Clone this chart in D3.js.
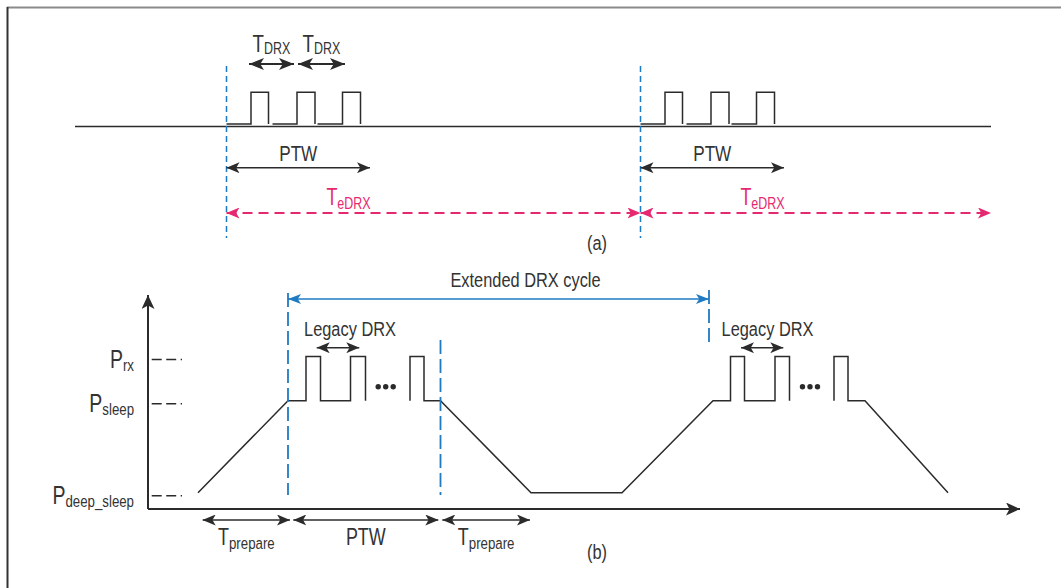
<!DOCTYPE html>
<html>
<head>
<meta charset="utf-8">
<script src="https://cdn.jsdelivr.net/npm/d3@7"></script>
<style>
  body { margin: 0; background: #fff; }
  text { font-family: "Liberation Sans Narrow", "Liberation Sans", Arial, sans-serif; fill: #333; }
</style>
</head>
<body>
<svg id="fig" width="1061" height="588"></svg>
<script>
// ---------- (a) eDRX timeline (time units along the top line) ----------
const cycleStartsA = [151.5, 565.5];
const timelineEndA = 916;
const pagingStarts = [0, 46, 91];        // offsets from cycle start
const pagingRise   = [24.5, 70.5, 116];
const pagingFall   = [42, 88.5, 134];
const ptwLength    = 143.5;
const tdrxSpans    = [[22.5, 67.5], [71.5, 118.5]];
const idleLevel    = 0.07;
const pagingLevel  = 1;

// ---------- (b) power profile ----------
const levelMain   = ["P", "P", "P"];
const levelSub    = ["deep_sleep", "sleep", "rx"];
const levelValues = [0, 1, 1.48];

const profileT = [50, 140, 158, 158, 172.5, 172.5, 202.5, 202.5, 217.5, 217.5, null,
                  262, 262, 276, 276, 292.5, 383, 474, 565, 582.5, 582.5, 596.5, 596.5, 627, 627, 641.5, 641.5, null,
                  686, 686, 700, 700, 717, 800];
const profileP = [0, 1, 1, 1.48, 1.48, 1, 1, 1.48, 1.48, 1, null,
                  1, 1.48, 1.48, 1, 1, 0, 0, 1, 1, 1.48, 1.48, 1, 1, 1.48, 1.48, 1, null,
                  1, 1.48, 1.48, 1, 1, 0];
const cycleMarksB   = [140, 292.5, 561];
const extendedSpan  = [140, 561];
const legacySpans   = [[168.7, 211.3], [593, 635.3]];
const legacyLabelT  = [202, 619.5];
const ellipsisT     = [237.7, 662];
const bottomSpans   = [[54.7, 142], [145.3, 290.3], [294.3, 382]];
const bottomMain    = ["T", "PTW", "T"];
const bottomSub     = ["prepare", "", "prepare"];

const BLUE = "#1f7ac4", PINK = "#e5286f", INK = "#2b2b2b";
const SX = 0.78; // horizontal squeeze, the original uses a condensed face

const svg = d3.select("#fig");

// frame
svg.append("line").attr("x1", 7).attr("x2", 1061).attr("y1", 7.5).attr("y2", 7.5)
  .attr("stroke", "#8a8a8a").attr("stroke-width", 2);
svg.append("line").attr("x1", 7.5).attr("x2", 7.5).attr("y1", 7).attr("y2", 588)
  .attr("stroke", "#333").attr("stroke-width", 2);

// arrow markers
const defs = svg.append("defs");
function marker(id, color, len, half) {
  defs.append("marker").attr("id", id)
    .attr("viewBox", `0 ${-half} ${len} ${half * 2}`)
    .attr("refX", len).attr("refY", 0)
    .attr("markerWidth", len).attr("markerHeight", half * 2)
    .attr("markerUnits", "userSpaceOnUse")
    .attr("orient", "auto-start-reverse")
    .append("path")
    .attr("d", `M0,${-half}L${len},0L0,${half}L${len * 0.25},0Z`)
    .attr("fill", color);
}
marker("ah", INK, 13, 5.5);
marker("ahBig", INK, 15, 6);
marker("ahBlue", BLUE, 13, 5);
marker("ahPink", PINK, 13, 5.5);
marker("ahAxis", INK, 14, 6.5);

function arrow(g, x1, x2, y, color, m, width, dash) {
  g.append("line").attr("x1", x1).attr("x2", x2).attr("y1", y).attr("y2", y)
    .attr("stroke", color).attr("stroke-width", width)
    .attr("stroke-dasharray", dash || null)
    .attr("marker-start", `url(#${m})`).attr("marker-end", `url(#${m})`);
}

// text with optional subscript, squeezed horizontally
function label(g, x, y, main, sub, size, subSize, color, dy, anchor) {
  const t = g.append("text")
    .attr("transform", `translate(${x},${y}) scale(${SX},1)`)
    .attr("text-anchor", anchor || "middle").style("font-size", size + "px");
  if (color) t.style("fill", color);
  t.append("tspan").text(main);
  if (sub) t.append("tspan").attr("dy", dy || 0).style("font-size", subSize + "px").text(sub);
  return t;
}

// ================= (a) =================
const gA = svg.append("g");
const xA = d3.scaleLinear().domain([0, 917]).range([75, 992]);
const yA = d3.scaleLinear().domain([0, 1]).range([126.5, 92.3]);

gA.append("line").attr("x1", xA(0)).attr("x2", xA(timelineEndA))
  .attr("y1", yA(0)).attr("y2", yA(0)).attr("stroke", INK).attr("stroke-width", 1.5);

cycleStartsA.forEach((c, ci) => {
  // dashed cycle boundary
  gA.append("line").attr("x1", xA(c)).attr("x2", xA(c)).attr("y1", 66).attr("y2", 238)
    .attr("stroke", BLUE).attr("stroke-width", 1.5).attr("stroke-dasharray", "6,4");

  // paging pulses
  const p = d3.path();
  pagingStarts.forEach((s, i) => {
    p.moveTo(xA(c + s), yA(idleLevel));
    p.lineTo(xA(c + pagingRise[i]), yA(idleLevel));
    p.lineTo(xA(c + pagingRise[i]), yA(pagingLevel));
    p.lineTo(xA(c + pagingFall[i]), yA(pagingLevel));
    p.lineTo(xA(c + pagingFall[i]), yA(idleLevel));
  });
  gA.append("path").attr("d", p.toString()).attr("fill", "none")
    .attr("stroke", INK).attr("stroke-width", 1.5);

  // T_DRX only on the first cycle
  if (ci === 0) {
    tdrxSpans.forEach(s => {
      arrow(gA, xA(c + s[0]), xA(c + s[1]), 64, INK, "ahBig", 2);
      label(gA, (xA(c + s[0]) + xA(c + s[1])) / 2, 52, "T", "DRX", 24, 16, null, 2);
    });
  }

  // PTW
  arrow(gA, xA(c), xA(c + ptwLength), 167.7, INK, "ah", 1.6);
  label(gA, (xA(c) + xA(c + ptwLength)) / 2, 161, "PTW", "", 22);

  // T_eDRX
  const end = ci + 1 < cycleStartsA.length ? cycleStartsA[ci + 1] : timelineEndA;
  arrow(gA, xA(c), xA(end), 213, PINK, "ahPink", 2, "10,6");
  label(gA, xA(c) + 122, 205, "T", "eDRX", 23, 16, PINK, 4);
});

label(gA, 597, 250, "(a)", "", 21);

// ================= (b) =================
const gB = svg.append("g");
const xB = d3.scaleLinear().domain([0, 872]).range([148, 1020]);
const yB = d3.scaleLinear().domain([0, 1]).range([492.7, 400.7]);

// axes
gB.append("line").attr("x1", xB(0)).attr("x2", xB(0)).attr("y1", 509).attr("y2", 295)
  .attr("stroke", INK).attr("stroke-width", 2).attr("marker-end", "url(#ahAxis)");
gB.append("line").attr("x1", xB(0)).attr("x2", xB(872)).attr("y1", 509).attr("y2", 509)
  .attr("stroke", INK).attr("stroke-width", 2).attr("marker-end", "url(#ahAxis)");

// level ticks and labels
levelValues.forEach((v, i) => {
  const y = yB(v) + 3;
  gB.append("line").attr("x1", 151.7).attr("x2", 182).attr("y1", y).attr("y2", y)
    .attr("stroke", INK).attr("stroke-width", 1.5).attr("stroke-dasharray", "10,4.5");
  label(gB, 134, y + 8, levelMain[i], levelSub[i], 25, 17, null, 3, "end");
});

// power profile
const idx = d3.range(profileT.length);
const line = d3.line()
  .defined(i => profileT[i] !== null)
  .x(i => xB(profileT[i]))
  .y(i => yB(profileP[i]));
gB.append("path").attr("d", line(idx)).attr("fill", "none")
  .attr("stroke", INK).attr("stroke-width", 1.5);

// ellipsis dots
ellipsisT.forEach(t => {
  [-7.5, 0, 7.5].forEach(d => {
    gB.append("circle").attr("cx", xB(t) + d).attr("cy", 386.7).attr("r", 2.7).attr("fill", INK);
  });
});

// cycle marks
const markTop = [293, 340, 290], markBottom = [495, 495, 347];
cycleMarksB.forEach((t, i) => {
  gB.append("line").attr("x1", xB(t)).attr("x2", xB(t))
    .attr("y1", markTop[i]).attr("y2", markBottom[i])
    .attr("stroke", BLUE).attr("stroke-width", 1.8).attr("stroke-dasharray", "14,5");
});

// extended DRX cycle
arrow(gB, xB(extendedSpan[0]), xB(extendedSpan[1]), 299, BLUE, "ahBlue", 1.6);
label(gB, (xB(extendedSpan[0]) + xB(extendedSpan[1])) / 2 + 27, 287, "Extended DRX cycle", "", 21);

// legacy DRX
legacySpans.forEach((s, i) => {
  arrow(gB, xB(s[0]), xB(s[1]), 347.7, INK, "ah", 1.6);
  label(gB, xB(legacyLabelT[i]), 336, "Legacy DRX", "", 21);
});

// bottom spans
bottomSpans.forEach((s, i) => {
  arrow(gB, xB(s[0]), xB(s[1]), 520, INK, "ah", 1.6);
  label(gB, (xB(s[0]) + xB(s[1])) / 2, 545, bottomMain[i], bottomSub[i], 23, 17, null, 4);
});

label(gB, 597, 559, "(b)", "", 21);
</script>
</body>
</html>
